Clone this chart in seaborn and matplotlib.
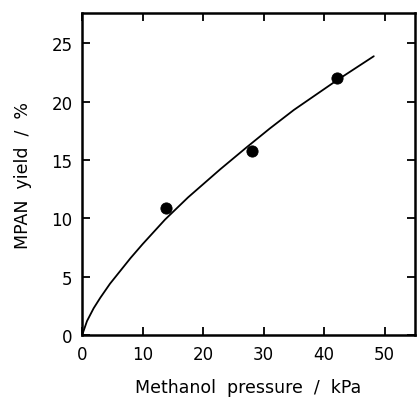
import numpy as np
import pandas as pd
import matplotlib
matplotlib.use("Agg")
import matplotlib.pyplot as plt
import seaborn as sns

# Measured yields (points)
pressure_pts = [13.8, 28.0, 42.2]
yield_pts = [10.9, 15.8, 22.0]

# Fitted curve
pressure_curve = [0, 0.8, 1.9, 3.0, 4.6, 6.3, 8.0, 10.0, 13.7, 17.5, 22.8, 27.2, 31.0, 35.0, 42.0, 48.2]
yield_curve = [0, 1.2, 2.3, 3.2, 4.4, 5.5, 6.6, 7.8, 9.9, 11.8, 14.2, 16.1, 17.7, 19.3, 21.8, 23.9]

x_ticks = [0, 10, 20, 30, 40, 50]
y_ticks = [0, 5, 10, 15, 20, 25]

pts = pd.DataFrame({"p": pressure_pts, "y": yield_pts})
curve = pd.DataFrame({"p": pressure_curve, "y": yield_curve})

sns.set_style("ticks")
plt.rcParams["font.family"] = ["DejaVu Sans"]
plt.rcParams["text.color"] = "black"
plt.rcParams["axes.labelcolor"] = "black"
plt.rcParams["xtick.color"] = "black"
plt.rcParams["ytick.color"] = "black"
plt.rcParams["axes.edgecolor"] = "black"

fig = plt.figure(figsize=(4.17, 4.02), dpi=100)
ax = fig.add_axes([0.197, 0.164, 0.798, 0.801])

sns.lineplot(data=curve, x="p", y="y", color="black", linewidth=1.3, ax=ax, sort=False)
sns.scatterplot(data=pts, x="p", y="y", color="black", s=65, edgecolor="black", ax=ax, zorder=3)

ax.set_xlim(0, 55)
ax.set_ylim(0, 27.6)
ax.set_xticks(x_ticks)
ax.set_yticks(y_ticks)
ax.tick_params(direction="in", length=6, width=1.3, top=True, right=True,
               labelsize=12, pad=7)
for sp in ax.spines.values():
    sp.set_linewidth(1.8)

ax.set_xlabel("Methanol  pressure  /  kPa", fontsize=12.5, labelpad=11)
ax.set_ylabel("MPAN  yield  /  %", fontsize=12.5, labelpad=14)

fig.savefig("out.png", dpi=100)
